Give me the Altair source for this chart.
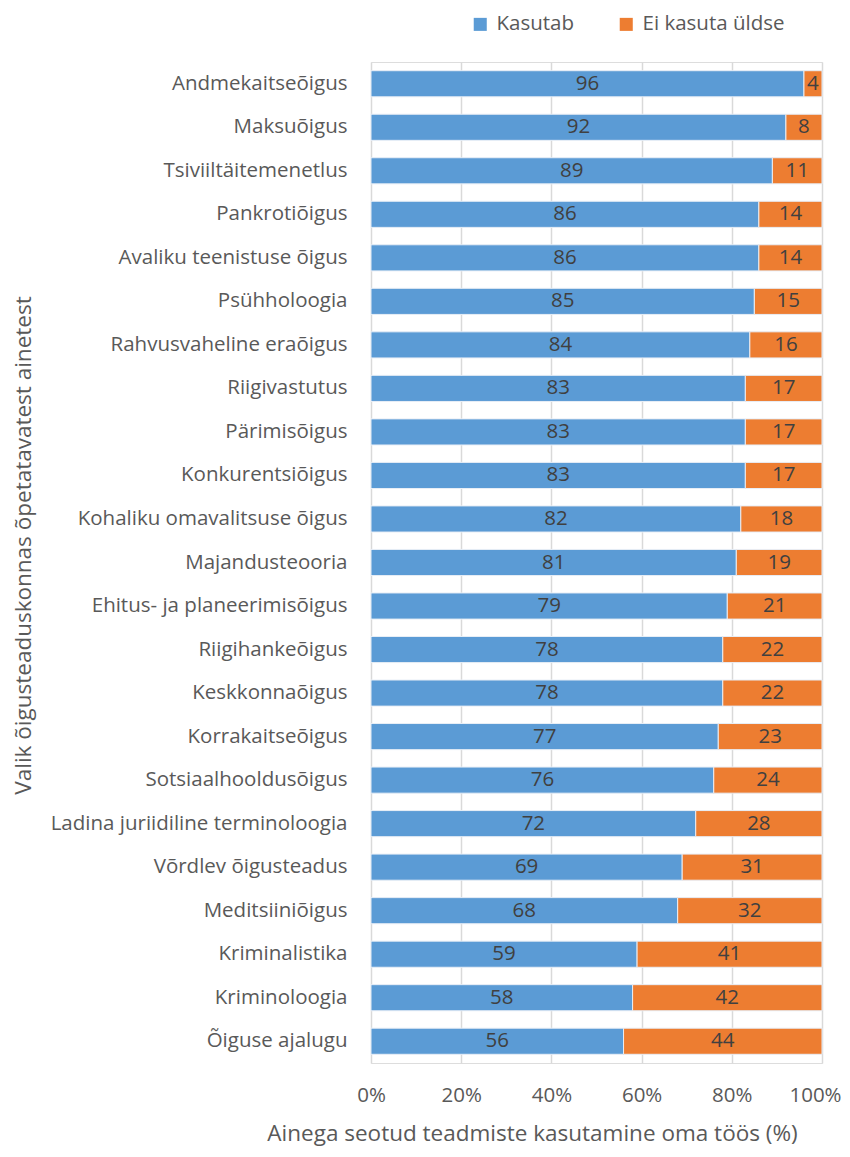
import altair as alt
import pandas as pd

categories = [
    "Andmekaitseõigus", "Maksuõigus", "Tsiviiltäitemenetlus", "Pankrotiõigus",
    "Avaliku teenistuse õigus", "Psühholoogia", "Rahvusvaheline eraõigus",
    "Riigivastutus", "Pärimisõigus", "Konkurentsiõigus",
    "Kohaliku omavalitsuse õigus", "Majandusteooria", "Ehitus- ja planeerimisõigus",
    "Riigihankeõigus", "Keskkonnaõigus", "Korrakaitseõigus", "Sotsiaalhooldusõigus",
    "Ladina juriidiline terminoloogia", "Võrdlev õigusteadus", "Meditsiiniõigus",
    "Kriminalistika", "Kriminoloogia", "Õiguse ajalugu",
]
kasutab = [96, 92, 89, 86, 86, 85, 84, 83, 83, 83, 82, 81, 79, 78, 78, 77, 76, 72, 69, 68, 59, 58, 56]
ei_kasuta = [4, 8, 11, 14, 14, 15, 16, 17, 17, 17, 18, 19, 21, 22, 22, 23, 24, 28, 31, 32, 41, 42, 44]
series = ["Kasutab", "Ei kasuta üldse"]
colors = ["#5B9BD5", "#ED7D31"]

rows = []
for c, a, b in zip(categories, kasutab, ei_kasuta):
    rows.append({"cat": c, "series": series[0], "order": 0, "value": a})
    rows.append({"cat": c, "series": series[1], "order": 1, "value": b})
df = pd.DataFrame(rows)

FONT = "Open Sans"
GRAY = "#595959"
LSIZE = 20.5
TSIZE = 22.5

base = alt.Chart(df).transform_stack(
    stack="value", groupby=["cat"], as_=["x0", "x1"],
    sort=[alt.SortField("order", order="ascending")]
).transform_calculate(mid="(datum.x0 + datum.x1) / 2")

y_enc = alt.Y(
    "cat:N", sort=categories, scale=alt.Scale(paddingInner=0.4, paddingOuter=0.2),
    axis=alt.Axis(
        title="Valik õigusteaduskonnas õpetatavatest ainetest",
        titleFont=FONT, titleFontSize=TSIZE, titleFontWeight="normal", titleColor=GRAY,
        titleAngle=270, titleBaseline="middle", titleAlign="center",
        titleX=-348, titleY=483,
        labelFont=FONT, labelFontSize=LSIZE, labelColor=GRAY, labelPadding=24,
        labelLimit=0,
        ticks=False, domain=False, grid=False,
    ),
)

bars = base.mark_bar(stroke="#e8eef6", strokeWidth=1).encode(
    x=alt.X(
        "x0:Q", scale=alt.Scale(domain=[0, 100], nice=False),
        axis=alt.Axis(
            values=[0, 20, 40, 60, 80, 100], labelExpr="datum.value + '%'",
            title="Ainega seotud teadmiste kasutamine oma töös (%)",
            titleFont=FONT, titleFontSize=TSIZE, titleFontWeight="normal", titleColor=GRAY,
            titlePadding=17, titleX=161,
            labelFont=FONT, labelFontSize=LSIZE, labelColor=GRAY, labelPadding=22,
            labelFlush=False, labelOverlap=False,
            labelOffset=alt.condition("datum.value == 100", alt.value(-7), alt.value(0)),
            ticks=False, domain=False, grid=True, gridColor="#d9d9d9", gridWidth=1.5,
        ),
    ),
    x2="x1:Q",
    y=y_enc,
    color=alt.Color(
        "series:N", sort=series,
        scale=alt.Scale(domain=series, range=colors),
        legend=alt.Legend(
            title=None, orient="none", direction="horizontal",
            legendX=99, legendY=-48,
            symbolType="square", symbolSize=170, symbolStrokeWidth=0,
            labelFont=FONT, labelFontSize=LSIZE, labelColor=GRAY,
            columnPadding=41, labelOffset=6,
        ),
    ),
)

labels = base.mark_text(font=FONT, fontSize=LSIZE, color="#404040").encode(
    x=alt.X("mid:Q"),
    y=alt.Y("cat:N", sort=categories),
    text=alt.Text("value:Q"),
)

chart = alt.layer(bars, labels).properties(
    width=451, height=1001,
    padding={"left": 363, "top": 54, "right": 20, "bottom": 86},
    autosize=alt.AutoSizeParams(type="none"),
).configure_view(stroke=None).configure(background="white")

chart.save("out.html", embed_options={"renderer": "svg", "actions": False})
